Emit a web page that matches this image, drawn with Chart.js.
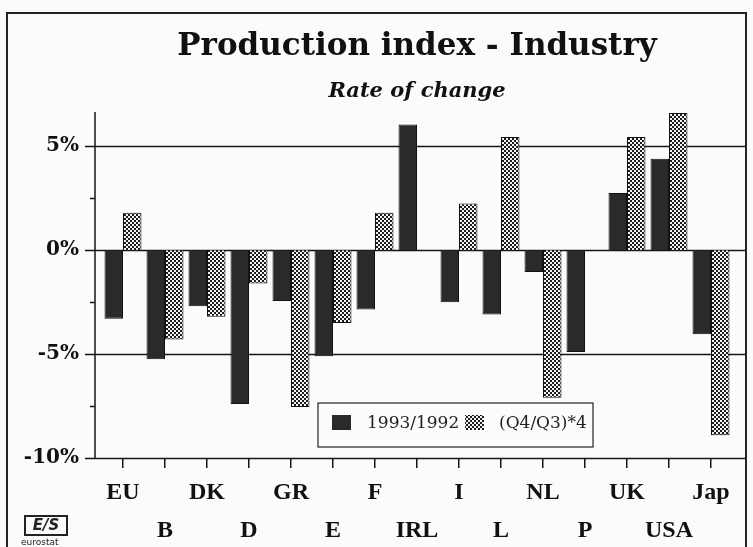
<!DOCTYPE html>
<html>
<head>
<meta charset="utf-8">
<script src="https://cdn.jsdelivr.net/npm/chart.js@4.4.1/dist/chart.umd.min.js"></script>
<style>
  html, body { margin: 0; padding: 0; background: #fbfbfb; }
  #wrap { position: relative; width: 753px; height: 547px; overflow: hidden; }
  #frame { position: absolute; left: 6px; top: 12px; width: 741px; height: 560px;
           border: 2px solid #222; box-sizing: border-box; pointer-events: none; }
  #logo { position: absolute; left: 21px; top: 515px; width: 50px; font-family: 'DejaVu Sans', sans-serif; }
  #logo .mark { width: 40px; height: 17px; border: 2px solid #222; margin-left: 3px;
                font: italic bold 15px 'DejaVu Sans'; line-height: 17px; text-align: center; color: #222; }
  #logo .name { font-size: 9px; color: #222; margin-top: 1px; }
</style>
</head>
<body>
<div id="wrap">
  <canvas id="chart" width="753" height="547"></canvas>
  <div id="frame"></div>
  <div id="logo"><div class="mark">E/S</div><div class="name">eurostat</div></div>
</div>
<script>
//Countries, in the order of the picture
const countries = ['EU', 'B', 'DK', 'D', 'GR', 'E', 'F', 'IRL', 'I', 'L', 'NL', 'P', 'UK', 'USA', 'Jap'];

//Rate of change in %
const annualChange = [-3.3, -5.25, -2.7, -7.4, -2.45, -5.1, -2.85, 6.05, -2.5, -3.1, -1.05, -4.9, 2.75, 4.4, -4.05];
const quarterChange = [1.8, -4.3, -3.2, -1.6, -7.55, -3.5, 1.8, null, 2.25, 5.45, -7.1, null, 5.45, 6.6, -8.9];

const seriesNames = ['1993/1992', '(Q4/Q3)*4'];

//Labels alternate between two rows
const staggeredLabels = countries.map((c, i) => i % 2 === 0 ? [c, ''] : ['', c]);

//Checker pattern for the second series
function makePattern() {
    const p = document.createElement('canvas');
    p.width = 4; p.height = 4;
    const pc = p.getContext('2d');
    pc.fillStyle = '#1c1c1c';
    pc.fillRect(0, 0, 4, 4);
    pc.fillStyle = '#f4f4f4';
    pc.fillRect(0, 0, 2, 2);
    pc.fillRect(2, 2, 2, 2);
    return document.getElementById('chart').getContext('2d').createPattern(p, 'repeat');
}
const hatch = makePattern();
const darkFill = '#2a2a2a';

//Axis lines, gridlines and ticks drawn a bit wider than the plot
const axisLines = {
    id: 'axisLines',
    beforeDatasetsDraw(chart) {
        const ctx = chart.ctx;
        const y = chart.scales.y;
        const axisX = 95, rightX = 745;
        ctx.save();
        ctx.strokeStyle = '#151515';
        ctx.lineWidth = 1.5;
        y.ticks.forEach(t => {
            if (t.value % 2.5 !== 0) return;
            const py = Math.round(y.getPixelForValue(t.value)) + 0.5;
            const major = t.value % 5 === 0;
            ctx.beginPath();
            ctx.moveTo(major ? 85 : 90, py);
            ctx.lineTo(major ? rightX : axisX, py);
            ctx.stroke();
        });
        ctx.beginPath();
        ctx.moveTo(axisX, chart.chartArea.top);
        ctx.lineTo(axisX, y.getPixelForValue(y.min));
        ctx.stroke();
        ctx.restore();
    }
};

//Legend box inside the plot
const boxLegend = {
    id: 'boxLegend',
    afterDraw(chart) {
        const ctx = chart.ctx;
        const bx = 318, by = 403, bw = 275, bh = 44;
        ctx.save();
        ctx.fillStyle = '#fcfcfc';
        ctx.fillRect(bx, by, bw, bh);
        ctx.strokeStyle = '#222';
        ctx.lineWidth = 1.2;
        ctx.strokeRect(bx, by, bw, bh);
        const fills = [darkFill, hatch];
        const xs = [[332, 367], [465, 499]];
        ctx.font = '17px "DejaVu Serif"';
        ctx.textBaseline = 'middle';
        seriesNames.forEach((name, i) => {
            ctx.fillStyle = fills[i];
            ctx.fillRect(xs[i][0], by + 12, 19, 15);
            ctx.fillStyle = '#222';
            ctx.fillText(name, xs[i][1], by + 21);
        });
        ctx.restore();
    }
};

const config = {
    type: 'bar',
    data: {
        labels: staggeredLabels,
        datasets: [
            {
                label: seriesNames[0],
                data: annualChange,
                backgroundColor: darkFill,
                borderColor: '#111',
                borderWidth: 1,
                categoryPercentage: 0.88,
                barPercentage: 1.0
            },
            {
                label: seriesNames[1],
                data: quarterChange,
                backgroundColor: hatch,
                borderColor: '#111',
                borderWidth: 1,
                categoryPercentage: 0.88,
                barPercentage: 1.0
            }
        ]
    },
    options: {
        responsive: false,
        animation: false,
        layout: { padding: { left: 0, right: 21, bottom: 0 } },
        plugins: {
            legend: { display: false },
            tooltip: { enabled: false },
            title: {
                display: true,
                fullSize: false,
                text: 'Production index - Industry',
                color: '#111',
                font: { family: 'DejaVu Serif', size: 31, weight: 'bold' },
                padding: { top: 28.4, bottom: 13.8 }
            },
            subtitle: {
                display: true,
                fullSize: false,
                text: 'Rate of change',
                color: '#111',
                font: { family: 'DejaVu Serif', size: 21, weight: 'bold', style: 'italic' },
                padding: { top: 0, bottom: 7.4 }
            }
        },
        scales: {
            x: {
                afterFit: s => { s.height = 89; },
                grid: { offset: false, drawOnChartArea: false, drawTicks: true, tickLength: 10, color: '#151515', lineWidth: 1.5 },
                border: { display: false },
                ticks: {
                    autoSkip: false,
                    maxRotation: 0,
                    padding: 6,
                    color: '#111',
                    font: { family: 'Liberation Serif', size: 24, weight: 'bold', lineHeight: '38px' }
                }
            },
            y: {
                min: -10,
                max: 6.65,
                afterFit: s => { s.width = 102; },
                grid: { display: false, drawTicks: false },
                border: { display: false },
                ticks: {
                    stepSize: 2.5,
                    padding: 23,
                    color: '#111',
                    font: { family: 'DejaVu Serif', size: 20, weight: 'bold' },
                    callback: v => (v % 5 === 0 ? v + '%' : '')
                }
            }
        }
    },
    plugins: [axisLines, boxLegend]
};

new Chart(document.getElementById('chart').getContext('2d'), config);
</script>
</body>
</html>
